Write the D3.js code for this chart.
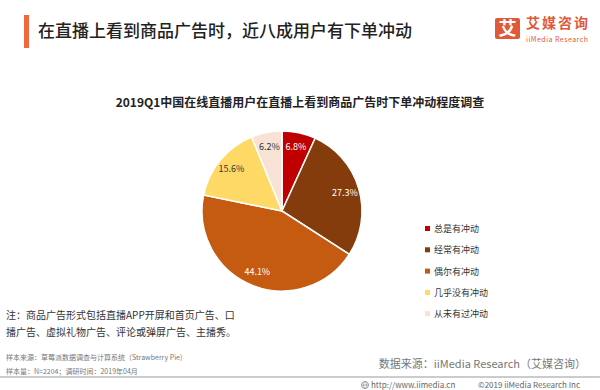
<!DOCTYPE html>
<meta charset="utf-8">
<style>
body { margin: 0; background: #fff; }
svg { font-family: "Noto Sans CJK SC", "Noto Sans", sans-serif; }
</style>
<div id="chart"></div>
<script src="https://d3js.org/d3.v7.min.js"></script>
<script>

// data
var categories = ["总是有冲动", "经常有冲动", "偶尔有冲动", "几乎没有冲动", "从未有过冲动"];
var values = [6.8, 27.3, 44.1, 15.6, 6.2];
var colorList = ["#c00000", "#843c0c", "#c55a11", "#ffd966", "#f8e2d6"];
var labelColors = ["#fff", "#fff", "#fff", "#333", "#333"];

var width = 600, height = 390;

var svg = d3.select("#chart").append("svg")
  .attr("width", width)
  .attr("height", height);

// header
svg.append("rect")
  .attr("x", 24).attr("y", 15)
  .attr("width", 5).attr("height", 33)
  .style("fill", "#ee6a3c");

svg.append("text")
  .attr("x", 38).attr("y", 37)
  .style("font-size", "17px")
  .style("font-weight", 500)
  .style("fill", "#222")
  .text("在直播上看到商品广告时，近八成用户有下单冲动");

// logo
var logo = svg.append("g");
logo.append("rect")
  .attr("x", 495).attr("y", 18)
  .attr("width", 25).attr("height", 21)
  .attr("rx", 2)
  .style("fill", "#e05a3a");
logo.append("text")
  .attr("x", 507.5).attr("y", 35)
  .attr("text-anchor", "middle")
  .style("font-size", "18px")
  .style("font-weight", 700)
  .style("fill", "#fff")
  .text("艾");
logo.append("text")
  .attr("x", 526).attr("y", 28)
  .attr("textLength", 62)
  .style("font-size", "14px")
  .style("font-weight", 700)
  .style("fill", "#e05a3a")
  .text("艾媒咨询");
logo.append("text")
  .attr("x", 526).attr("y", 41.5)
  .attr("textLength", 62)
  .style("font-size", "7px")
  .style("fill", "#e05a3a")
  .text("iiMedia Research");

// chart title
svg.append("text")
  .attr("x", 300).attr("y", 107)
  .attr("text-anchor", "middle")
  .style("font-size", "12px")
  .style("font-weight", 700)
  .style("fill", "#222")
  .text("2019Q1中国在线直播用户在直播上看到商品广告时下单冲动程度调查");

// pie
var cx = 282, cy = 211, r = 80;
var color = d3.scaleOrdinal().domain(categories).range(colorList);

var pie = d3.pie().sort(null).value(function(d) { return d.value; });
var data = categories.map(function(c, i) { return { name: c, value: values[i], i: i }; });

var arc = d3.arc().innerRadius(0).outerRadius(r);
var labelArc = d3.arc().innerRadius(r * 0.82).outerRadius(r * 0.82);

var g = svg.append("g").attr("transform", "translate(" + cx + "," + cy + ")");

g.selectAll("path.slice")
  .data(pie(data))
  .enter().append("path")
  .attr("class", "slice")
  .attr("d", arc)
  .style("fill", function(d) { return color(d.data.name); })
  .style("stroke", "#fff")
  .style("stroke-width", 1.5);

g.selectAll("text.lbl")
  .data(pie(data))
  .enter().append("text")
  .attr("class", "lbl")
  .attr("transform", function(d) { return "translate(" + labelArc.centroid(d) + ")"; })
  .attr("text-anchor", "middle")
  .attr("dy", "0.35em")
  .style("font-size", "9px")
  .style("fill", function(d) { return labelColors[d.data.i]; })
  .text(function(d) { return d.data.value.toFixed(1) + "%"; });

// legend
var legend = svg.append("g")
  .attr("transform", "translate(425,229)")
  .selectAll("g")
  .data(categories)
  .enter().append("g")
  .attr("transform", function(d, i) { return "translate(0," + i * 21.3 + ")"; });
legend.append("rect")
  .attr("x", 0).attr("y", -3)
  .attr("width", 5).attr("height", 5)
  .style("fill", function(d) { return color(d); });
legend.append("text")
  .attr("x", 9).attr("y", 0)
  .attr("dy", "0.35em")
  .style("font-size", "9px")
  .style("fill", "#333")
  .text(function(d) { return d; });

// notes
var notes = ["注：商品广告形式包括直播APP开屏和首页广告、口", "播广告、虚拟礼物广告、评论或弹屏广告、主播秀。"];
svg.selectAll("text.note")
  .data(notes)
  .enter().append("text")
  .attr("class", "note")
  .attr("x", 6)
  .attr("y", function(d, i) { return 319 + i * 17; })
  .style("font-size", "10px")
  .style("fill", "#333")
  .text(function(d) { return d; });

var sources = ["样本来源：草莓派数据调查与计算系统（Strawberry Pie)", "样本量：N=2204；调研时间：2019年04月"];
svg.selectAll("text.src")
  .data(sources)
  .enter().append("text")
  .attr("class", "src")
  .attr("x", 6)
  .attr("y", function(d, i) { return 360 + i * 14; })
  .style("font-size", "7px")
  .style("fill", "#777")
  .text(function(d) { return d; });

svg.append("text")
  .attr("x", 586).attr("y", 368)
  .attr("text-anchor", "end")
  .style("font-size", "11px")
  .style("fill", "#777")
  .text("数据来源：iiMedia Research（艾媒咨询）");

svg.append("line")
  .attr("x1", 0).attr("x2", 600)
  .attr("y1", 377).attr("y2", 377)
  .style("stroke", "#999")
  .style("stroke-width", 1.2);

// footer
var globe = svg.append("g").attr("transform", "translate(365,385)");
globe.append("circle").attr("r", 3.5).style("fill", "none").style("stroke", "#888").style("stroke-width", 0.8);
globe.append("line").attr("x1", -3.5).attr("x2", 3.5).style("stroke", "#888").style("stroke-width", 0.6);
globe.append("ellipse").attr("rx", 1.5).attr("ry", 3.5).style("fill", "none").style("stroke", "#888").style("stroke-width", 0.6);

svg.append("text")
  .attr("x", 371).attr("y", 388)
  .style("font-size", "8px")
  .style("fill", "#666")
  .text("http://www.iimedia.cn");

svg.append("text")
  .attr("x", 580).attr("y", 388)
  .attr("text-anchor", "end")
  .style("font-size", "8px")
  .style("fill", "#666")
  .text("©2019 iiMedia Research Inc");

</script>
